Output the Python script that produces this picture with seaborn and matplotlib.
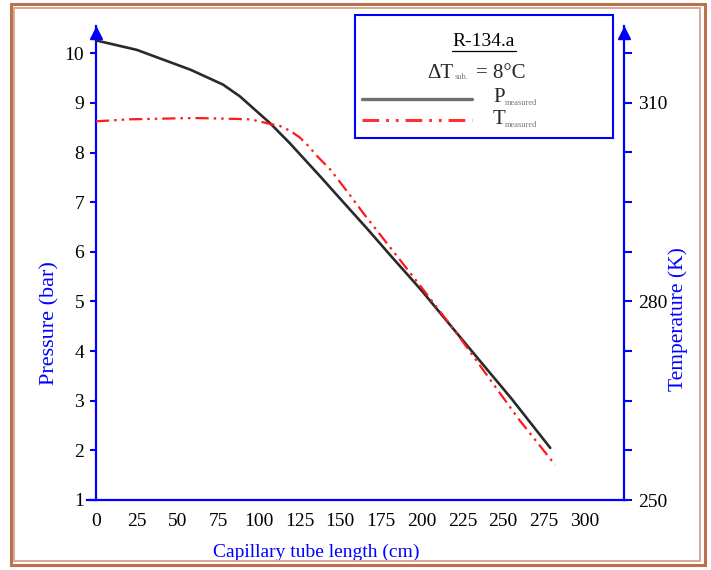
import numpy as np
import pandas as pd
import matplotlib
matplotlib.use("Agg")
import matplotlib.pyplot as plt
import seaborn as sns
from matplotlib.patches import Rectangle
from matplotlib.lines import Line2D

# Measured profiles along the capillary tube (R-134a, 8 °C subcooling)
length_p = [0, 25, 58, 78, 88.5, 107, 119, 138, 150, 167, 180, 193, 200, 227, 255, 279]
pressure = [10.26, 10.07, 9.67, 9.37, 9.13, 8.59, 8.19, 7.51, 7.07,
            6.45, 5.96, 5.48, 5.22, 4.15, 3.05, 2.05]

length_t = [0, 20, 40, 60, 80, 95, 107, 113, 119, 125, 130, 136, 144, 154, 164,
            185, 200, 220, 240, 260, 282]
temperature = [307.2, 307.5, 307.6, 307.7, 307.6, 307.5, 306.8, 306.5, 305.8, 304.8,
               303.6, 301.9, 299.9, 296.7, 293.4, 286.8, 282.1, 275.7, 268.9, 262.1, 255.3]

x_ticks = [0, 25, 50, 75, 100, 125, 150, 175, 200, 225, 250, 275, 300]
p_ticks = [1, 2, 3, 4, 5, 6, 7, 8, 9, 10]
t_ticks = [250, 257.5, 265, 272.5, 280, 287.5, 295, 302.5, 310, 317.5]
t_labels = ["250", "", "", "", "280", "", "", "", "310", ""]

W, H = 711, 570
BLUE = "#0000ff"

sns.set_style("white")
plt.rcParams["font.family"] = ["Liberation Serif", "DejaVu Serif"]
plt.rcParams["lines.scale_dashes"] = False


def fx(px):
    return px / W


def fy(py):
    return 1 - py / H


fig = plt.figure(figsize=(W / 100, H / 100), dpi=100)
fig.patch.set_facecolor("white")

ax = fig.add_axes([fx(87), fy(500), fx(624) - fx(87), fy(26) - fy(500)])
ax2 = ax.twinx()

p_df = pd.DataFrame({"length": length_p, "pressure": pressure})
t_df = pd.DataFrame({"length": length_t, "temperature": temperature})

sns.lineplot(data=p_df, x="length", y="pressure", ax=ax, color="#2a2a2a",
             linewidth=1.9, sort=True, zorder=3)
sns.lineplot(data=t_df, x="length", y="temperature", ax=ax2, color="#ff1a1a",
             linewidth=1.6, sort=True, zorder=3)
ax2.lines[-1].set_linestyle((0, (9.5, 3.6, 1.8, 3.6, 1.8, 3.6)))

ax.set_xlim(-5.5, 324.3)
ax.set_ylim(1, 10.55)
ax2.set_ylim(250, 321.6)

# spines
for s in ["top", "right"]:
    ax.spines[s].set_visible(False)
for s in ["top", "left", "bottom"]:
    ax2.spines[s].set_visible(False)
ax.spines["left"].set_position(("data", 0))
for sp in [ax.spines["left"], ax.spines["bottom"], ax2.spines["right"]]:
    sp.set_color(BLUE)
    sp.set_linewidth(1.6)

ax.set_xticks(x_ticks)
ax.set_xticklabels([str(v) for v in x_ticks])
ax.set_yticks(p_ticks)
ax.set_yticklabels([str(v) for v in p_ticks])
ax2.set_yticks(t_ticks)
ax2.set_yticklabels(t_labels)

ax.tick_params(axis="both", direction="out", length=4.5, width=1.5, color=BLUE,
               labelcolor="black", labelsize=14, pad=4)
ax.tick_params(axis="x", pad=5)
ax2.tick_params(axis="y", direction="out", length=6, width=1.5, color=BLUE,
                labelcolor="black", labelsize=14, pad=4)
ax.set_xlabel("")
ax.set_ylabel("")
ax2.set_ylabel("")
ax.grid(False)
ax2.grid(False)

# arrow heads on the vertical axes
ax.plot([0], [0.985], transform=ax.get_xaxis_transform(), marker="^", ms=8,
        color=BLUE, clip_on=False, zorder=5)
ax.plot([1], [0.985], transform=ax.transAxes, marker="^", ms=8,
        color=BLUE, clip_on=False, zorder=5)

# axis titles
fig.text(fx(50), fy(323), "Pressure (bar)", rotation=90, ha="center", va="center",
         color=BLUE, fontsize=16)
fig.text(fx(678), fy(319), "Temperature (K)", rotation=90, ha="center", va="center",
         color=BLUE, fontsize=15.5)
fig.text(fx(316), fy(552), "Capillary tube length (cm)", ha="center", va="center",
         color=BLUE, fontsize=14)

# legend panel
fig.patches.append(Rectangle((fx(355), fy(138)), fx(613) - fx(355), fy(15) - fy(138),
                             transform=fig.transFigure, facecolor="white",
                             edgecolor=BLUE, linewidth=1.5, zorder=10))
fig.text(fx(484), fy(42), "R-134.a", ha="center", va="center", fontsize=14,
         color="black", zorder=11)
fig.lines.append(Line2D([fx(452), fx(516)], [fy(51), fy(51)], transform=fig.transFigure,
                        color="black", linewidth=0.9, zorder=11))
fig.text(fx(427), fy(73), "\u0394T", ha="left", va="center", fontsize=15, zorder=11)
fig.text(fx(455), fy(77), "sub.", ha="left", va="center", fontsize=6,
         color="#777777", zorder=11)
fig.text(fx(476), fy(73), "= 8\u00b0C", ha="left", va="center", fontsize=15, zorder=11)

fig.lines.append(Line2D([fx(362), fx(472)], [fy(99), fy(99)], transform=fig.transFigure,
                        color="#707070", linewidth=2.4, zorder=11))
fig.lines.append(Line2D([fx(362), fx(472)], [fy(120), fy(120)], transform=fig.transFigure,
                        color="#ff3030", linewidth=2.2, zorder=11,
                        linestyle=(0, (12, 5, 2, 5, 2, 5))))
fig.text(fx(493), fy(98), "P", ha="left", va="center", fontsize=15, zorder=11)
fig.text(fx(505), fy(103), "measured", ha="left", va="center", fontsize=6,
         color="#777777", zorder=11)
fig.text(fx(493), fy(120), "T", ha="left", va="center", fontsize=15, zorder=11)
fig.text(fx(505), fy(125), "measured", ha="left", va="center", fontsize=6,
         color="#777777", zorder=11)

# picture frame
fig.patches.append(Rectangle((fx(10.5), fy(564.5)), fx(704.5) - fx(10.5), fy(3.5) - fy(564.5),
                             transform=fig.transFigure, fill=False,
                             edgecolor="#b87252", linewidth=2.2, zorder=12))
fig.patches.append(Rectangle((fx(14.5), fy(560.5)), fx(700.5) - fx(14.5), fy(7.5) - fy(560.5),
                             transform=fig.transFigure, fill=False,
                             edgecolor="#d9a88e", linewidth=1.4, zorder=12))

fig.savefig("out.png", dpi=100, facecolor="white")
